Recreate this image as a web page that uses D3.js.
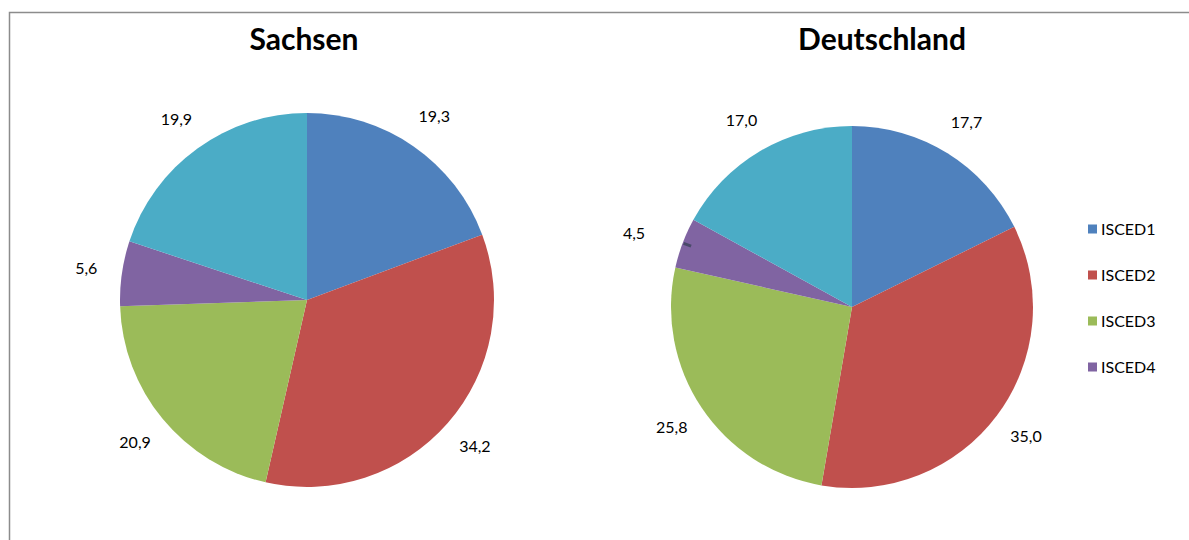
<!DOCTYPE html>
<html>
<head>
<meta charset="utf-8">
<script src="https://d3js.org/d3.v7.min.js"></script>
<style>
  body { margin: 0; background: #fff; overflow: hidden; }
  text { font-family: Lato, "Open Sans", sans-serif; fill: #000; }
</style>
</head>
<body>
<svg width="1189" height="540"></svg>
<script>
const categories = ["ISCED1", "ISCED2", "ISCED3", "ISCED4", "ISCED5"];
const legendItems = ["ISCED1", "ISCED2", "ISCED3", "ISCED4"];
const sachsen = [19.3, 34.2, 20.9, 5.6, 19.9];
const deutschland = [17.7, 35.0, 25.8, 4.5, 17.0];
const colors = ["#4f81bd", "#c0504d", "#9bbb59", "#8064a2", "#4bacc6"];

const svg = d3.select("svg");
const color = d3.scaleOrdinal().domain(categories).range(colors);
const fmt = v => v.toFixed(1).replace(".", ",");

// chart frame: only the top and left edges fall inside the picture
svg.append("path").attr("d", "M9.5,540V12.5H1189")
  .attr("fill", "none").attr("stroke", "#8c8c8c").attr("stroke-width", 1.5);

const pie = d3.pie().sort(null);

function drawPie(title, values, cx, cy, r, titleX) {
  const g = svg.append("g").attr("transform", `translate(${cx},${cy})`);
  const arcs = pie(values);
  const arc = d3.arc().innerRadius(0).outerRadius(r);
  // small slices get their label pushed a bit further out, like Excel does
  const small = d => d.data < 5;
  const labelR = d => r + (small(d) ? 52 : 36);
  const labelArc = d3.arc().innerRadius(labelR).outerRadius(labelR);
  g.selectAll("path").data(arcs).enter().append("path")
    .attr("d", arc)
    .attr("fill", (d, i) => color(categories[i]));
  // short leader stub for pushed-out labels (sits just inside the rim)
  const stubIn = d3.arc().innerRadius(r - 9).outerRadius(r - 9);
  const stubOut = d3.arc().innerRadius(r - 1).outerRadius(r - 1);
  g.selectAll("line.stub").data(arcs.filter(small)).enter().append("line")
    .attr("class", "stub")
    .attr("x1", d => stubIn.centroid(d)[0]).attr("y1", d => stubIn.centroid(d)[1])
    .attr("x2", d => stubOut.centroid(d)[0]).attr("y2", d => stubOut.centroid(d)[1])
    .attr("stroke", "#4a4a6a").attr("stroke-width", 3);
  g.selectAll("text.lbl").data(arcs).enter().append("text")
    .attr("class", "lbl")
    .attr("transform", d => `translate(${labelArc.centroid(d)})`)
    .attr("text-anchor", "middle")
    .attr("dy", d => small(d) ? "0.9em" : "0.35em")
    .style("font-size", "16px")
    .text(d => fmt(d.data));
  svg.append("text")
    .attr("x", titleX).attr("y", 50)
    .attr("text-anchor", "middle")
    .style("font-size", "30px").style("font-weight", "bold")
    .text(title);
}

drawPie("Sachsen", sachsen, 307, 300, 187, 304);
drawPie("Deutschland", deutschland, 852, 307, 181, 882);

const legend = svg.append("g");
const ly = d3.scalePoint().domain(legendItems).range([229, 367]);
legendItems.forEach(c => {
  legend.append("rect").attr("x", 1088).attr("y", ly(c) - 4.5).attr("width", 9).attr("height", 9)
    .attr("fill", color(c));
  legend.append("text").attr("x", 1101).attr("y", ly(c)).attr("dy", "0.35em")
    .style("font-size", "16px").text(c);
});
</script>
</body>
</html>
